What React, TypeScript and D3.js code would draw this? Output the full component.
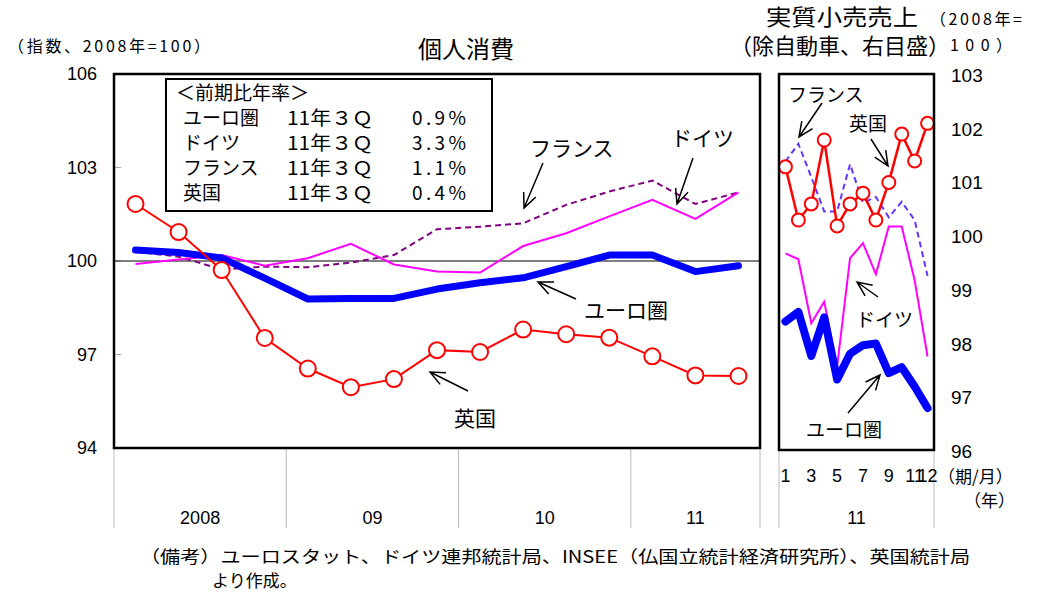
import React from "react";
import * as d3 from "d3";

// left panel: quarterly, 2008Q1 - 2011Q3
const quarters = ["08Q1", "08Q2", "08Q3", "08Q4", "09Q1", "09Q2", "09Q3", "09Q4", "10Q1", "10Q2", "10Q3", "10Q4", "11Q1", "11Q2", "11Q3"];
const yearLabels = ["2008", "09", "10", "11"];
const yearQuarterCounts = [4, 4, 4, 3];
const euroQ = [100.35, 100.27, 100.1, 99.45, 98.78, 98.8, 98.8, 99.1, 99.3, 99.46, 99.82, 100.19, 100.19, 99.66, 99.85];
const germanyQ = [99.9, 100.05, 100.19, 99.85, 100.09, 100.55, 99.89, 99.66, 99.63, 100.48, 100.89, 101.43, 101.96, 101.35, 102.2];
const franceQ = [100.3, 100.14, 99.73, 99.82, 99.8, 99.95, 100.19, 101.02, 101.1, 101.21, 101.8, 102.23, 102.58, 101.83, 102.2];
const ukQ = [101.83, 100.93, 99.71, 97.53, 96.55, 95.95, 96.21, 97.14, 97.08, 97.8, 97.65, 97.54, 96.94, 96.33, 96.31];
const leftTicks = [94, 97, 100, 103, 106];

// right panel: monthly 2011
const months = ["1", "2", "3", "4", "5", "6", "7", "8", "9", "10", "11", "12"];
const monthTickLabels = ["1", "3", "5", "7", "9", "11", "12"];
const euroM = [98.41, 98.59, 97.77, 98.49, 97.33, 97.81, 97.97, 98.0, 97.45, 97.56, 97.2, 96.8];
const germanyM = [99.68, 99.57, 98.38, 98.78, 97.57, 99.59, 99.87, 99.29, 100.18, 100.18, 99.18, 97.76];
const franceM = [101.39, 101.72, 101.1, 100.46, 100.46, 101.34, 100.62, 100.73, 100.35, 100.64, 100.3, 99.26];
const ukM = [101.29, 100.3, 100.6, 101.79, 100.19, 100.6, 100.8, 100.3, 101.0, 101.9, 101.4, 102.1];
const rightTicks = [96, 97, 98, 99, 100, 101, 102, 103];

const legendRows = [
  ["ユーロ圏", "11年３Ｑ", "0.9%"],
  ["ドイツ", "11年３Ｑ", "3.3%"],
  ["フランス", "11年３Ｑ", "1.1%"],
  ["英国", "11年３Ｑ", "0.4%"],
];

const JP = "'Noto Sans CJK JP', 'Noto Sans', sans-serif";
const NUM = "'Liberation Sans', Arial, sans-serif";

// open arrow, head at (x2, y2)
const arrowPath = (x1: number, y1: number, x2: number, y2: number) => {
  const a = Math.atan2(y1 - y2, x1 - x2);
  const len = 16, spread = 0.42;
  const ax = x2 + len * Math.cos(a + spread), ay = y2 + len * Math.sin(a + spread);
  const bx = x2 + len * Math.cos(a - spread), by = y2 + len * Math.sin(a - spread);
  return `M${x1},${y1}L${x2},${y2}M${ax},${ay}L${x2},${y2}L${bx},${by}`;
};

const App = () => {
  const L = { left: 114, right: 760, top: 74, bottom: 448 };
  const R = { left: 779, right: 934, top: 75, bottom: 451 };

  const xQ = d3.scaleBand().domain(quarters).range([L.left, L.right]);
  const yL = d3.scaleLinear().domain([94, 106]).range([L.bottom, L.top]);
  const xM = d3.scaleBand().domain(months).range([R.left, R.right]);
  const yR = d3.scaleLinear().domain([96, 103]).range([R.bottom, R.top]);

  const cq = (i: number) => xQ(quarters[i])! + xQ.bandwidth() / 2;
  const cm = (i: number) => xM(months[i])! + xM.bandwidth() / 2;

  const lineL = d3.line<number>().x((d, i) => cq(i)).y((d) => yL(d));
  const lineR = d3.line<number>().x((d, i) => cm(i)).y((d) => yR(d));

  // year separators along the bottom
  let acc = 0;
  const yearBounds = yearQuarterCounts.map((n) => {
    const start = acc;
    acc += n;
    return [start, acc];
  });
  const qEdge = (k: number) => (k < quarters.length ? xQ(quarters[k])! : L.right);

  return (
    <svg width={1043} height={593} style={{ position: "absolute", left: 0, top: 0, background: "#fff" }}>
      {/* titles */}
      <text x={8} y={52} fontFamily={JP} fontSize={16} textLength={202} lengthAdjust="spacing">（指数、2008年=100）</text>
      <text x={466} y={58} fontFamily={JP} fontSize={24} textAnchor="middle">個人消費</text>
      <text x={766} y={25} fontFamily={JP} fontSize={22} textLength={152} lengthAdjust="spacingAndGlyphs">実質小売売上</text>
      <text x={730} y={54} fontFamily={JP} fontSize={22} textLength={220} lengthAdjust="spacingAndGlyphs">（除自動車、右目盛）</text>
      <text x={930} y={25} fontFamily={JP} fontSize={16} textLength={92} lengthAdjust="spacing">（2008年=</text>
      <text x={950} y={51} fontFamily={JP} fontSize={16} textLength={62} lengthAdjust="spacing">100）</text>

      {/* left panel */}
      {leftTicks.map((t) => (
        <g key={t}>
          <line x1={L.left} x2={L.left + 7} y1={yL(t)} y2={yL(t)} stroke="#aaa" strokeWidth={1} />
          <text x={97} y={yL(t) + 6} fontFamily={NUM} fontSize={18} textAnchor="end">{t}</text>
        </g>
      ))}
      <line x1={L.left} x2={L.right} y1={yL(100)} y2={yL(100)} stroke="#000" strokeWidth={1.2} />

      {yearBounds.map(([s, e], i) => (
        <g key={yearLabels[i]}>
          <line x1={qEdge(s)} x2={qEdge(s)} y1={L.bottom} y2={528} stroke="#bbb" strokeWidth={1} />
          <text x={(qEdge(s) + qEdge(e)) / 2} y={524} fontFamily={NUM} fontSize={18} textAnchor="middle">{yearLabels[i]}</text>
        </g>
      ))}
      <line x1={L.right} x2={L.right} y1={L.bottom} y2={528} stroke="#bbb" strokeWidth={1} />

      <path d={lineL(franceQ)!} fill="none" stroke="#800080" strokeWidth={2} strokeDasharray="6,4" />
      <path d={lineL(germanyQ)!} fill="none" stroke="#ff00ff" strokeWidth={2} />
      <path d={lineL(euroQ)!} fill="none" stroke="#0000ff" strokeWidth={7} strokeLinecap="round" strokeLinejoin="round" />
      <path d={lineL(ukQ)!} fill="none" stroke="#ff0000" strokeWidth={2} />
      {ukQ.map((d, i) => (
        <circle key={i} cx={cq(i)} cy={yL(d)} r={8} fill="#fff" stroke="#ff0000" strokeWidth={2} />
      ))}

      <rect x={L.left} y={L.top} width={L.right - L.left} height={L.bottom - L.top} fill="none" stroke="#000" strokeWidth={2.5} />

      {/* legend box */}
      <rect x={166} y={79} width={326} height={132} fill="#fff" stroke="#000" strokeWidth={2} />
      <text x={176} y={100} fontFamily={JP} fontSize={19}>＜前期比年率＞</text>
      {legendRows.map((r, i) => (
        <g key={r[0]} fontFamily={JP} fontSize={19}>
          <text x={183} y={125 + i * 25}>{r[0]}</text>
          <text x={287} y={125 + i * 25} textLength={86} lengthAdjust="spacingAndGlyphs">{r[1]}</text>
          <text x={412} y={125 + i * 25} textLength={54} lengthAdjust="spacing">{r[2]}</text>
        </g>
      ))}

      {/* left annotations */}
      <g fill="none" stroke="#000" strokeWidth={1.5}>
        <path d={arrowPath(543, 163, 524, 208)} />
        <path d={arrowPath(693, 158, 677, 204)} />
        <path d={arrowPath(576, 299, 538, 282)} />
        <path d={arrowPath(468, 391, 430, 372)} />
      </g>
      <g fontFamily={JP} fontSize={21}>
        <text x={530} y={156}>フランス</text>
        <text x={671} y={146}>ドイツ</text>
        <text x={584} y={318}>ユーロ圏</text>
        <text x={454} y={426}>英国</text>
      </g>

      {/* right panel */}
      {rightTicks.map((t) => (
        <text key={t} x={951} y={yR(t) + 7} fontFamily={NUM} fontSize={19}>{t}</text>
      ))}
      <line x1={R.left} x2={R.left} y1={R.bottom} y2={528} stroke="#bbb" strokeWidth={1} />
      <line x1={R.right} x2={R.right} y1={R.bottom} y2={528} stroke="#bbb" strokeWidth={1} />
      {monthTickLabels.map((m) => (
        <text key={m} x={cm(months.indexOf(m))} y={482} fontFamily={NUM} fontSize={18} textAnchor="middle">{m}</text>
      ))}
      <text x={(R.left + R.right) / 2} y={524} fontFamily={NUM} fontSize={18} textAnchor="middle">11</text>
      <text x={938} y={483} fontFamily={JP} fontSize={17}>（期/月）</text>
      <text x={964} y={507} fontFamily={JP} fontSize={17}>（年）</text>

      <path d={lineR(franceM)!} fill="none" stroke="#6633ff" strokeWidth={2} strokeDasharray="6,4" />
      <path d={lineR(germanyM)!} fill="none" stroke="#ff00ff" strokeWidth={2} />
      <path d={lineR(euroM)!} fill="none" stroke="#0000ff" strokeWidth={8} strokeLinecap="round" strokeLinejoin="round" />
      <path d={lineR(ukM)!} fill="none" stroke="#ff0000" strokeWidth={2.5} />
      {ukM.map((d, i) => (
        <circle key={i} cx={cm(i)} cy={yR(d)} r={6.5} fill="#fff" stroke="#ff0000" strokeWidth={2} />
      ))}
      <rect x={R.left} y={R.top - 1} width={R.right - R.left} height={R.bottom - R.top} fill="none" stroke="#000" strokeWidth={2.5} />

      <g fill="none" stroke="#000" strokeWidth={1.5}>
        <path d={arrowPath(822, 103, 799, 137)} />
        <path d={arrowPath(871, 139, 888, 166)} />
        <path d={arrowPath(878, 297, 857, 282)} />
        <path d={arrowPath(848, 413, 880, 375)} />
      </g>
      <g fontFamily={JP} fontSize={19}>
        <text x={788} y={102}>フランス</text>
        <text x={849} y={131}>英国</text>
        <text x={856} y={327}>ドイツ</text>
        <text x={806} y={437}>ユーロ圏</text>
      </g>

      {/* source note */}
      <text x={140} y={563} fontFamily={JP} fontSize={17} textLength={830} lengthAdjust="spacingAndGlyphs">（備考）ユーロスタット、ドイツ連邦統計局、INSEE（仏国立統計経済研究所）、英国統計局</text>
      <text x={212} y={587} fontFamily={JP} fontSize={17}>より作成。</text>
    </svg>
  );
};

export default App;
